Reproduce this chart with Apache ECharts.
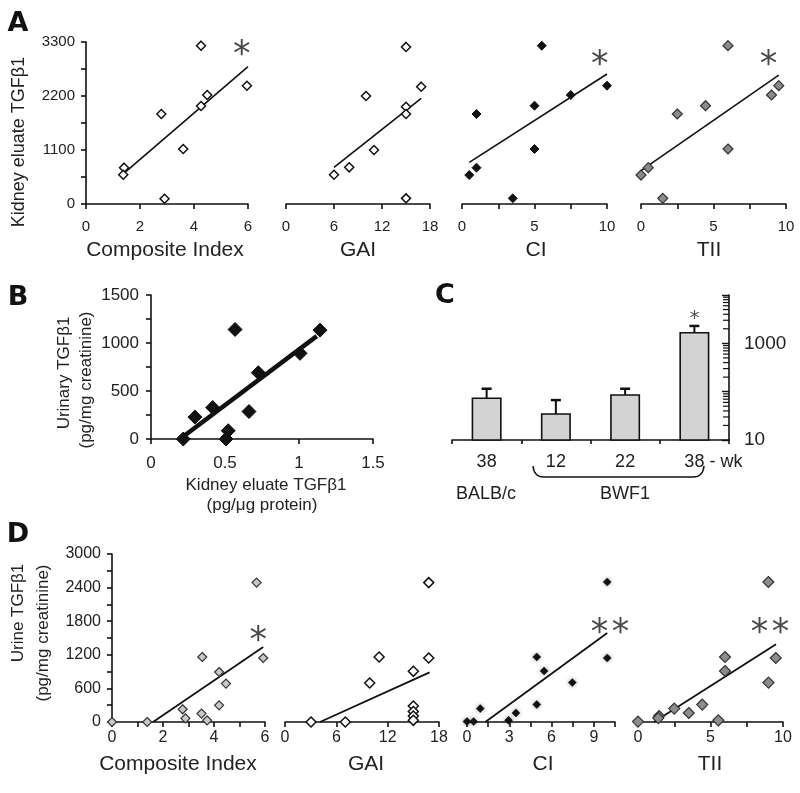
<!DOCTYPE html>
<html><head><meta charset="utf-8">
<script src="https://cdn.jsdelivr.net/npm/echarts@6/dist/echarts.min.js"></script>
<style>html,body{margin:0;padding:0;background:#fff}#c{width:800px;height:793px}</style>
</head><body><div id="c"></div>
<script>
// ---------- DATA ----------
// Panel A: kidney eluate TGFb1 vs histology indices
const aComposite = [[1.41,740],[1.38,597],[2.79,1833],[2.91,108],[3.6,1120],[4.26,3225],[4.26,1996],[4.49,2220],[5.96,2410]];
const aCompositeFit = [[1.4,625],[6,2800]];
const aGAI = [[15,3200],[10,2200],[15,1982],[15,1833],[11,1100],[7.9,747],[6,597],[15,115],[16.9,2390]];
const aGAIFit = [[6,747],[16.9,2150]];
const aCI = [[5.5,3225],[10,2410],[7.5,2220],[5,2002],[1,1833],[5,1120],[1,740],[0.5,590],[3.5,115]];
const aCIFit = [[0.5,849],[10,2648]];
const aTII = [[6,3225],[9.5,2410],[9,2220],[4.45,2002],[2.5,1833],[6,1120],[0.5,740],[0,590],[1.5,115]];
const aTIIFit = [[0,680],[9.5,2627]];
const aCompositeStar = [5.77,3170];
const aCIStar = [9.5,2970];
const aTIIStar = [8.8,2970];

// Panel B: urinary vs kidney eluate TGFb1
const bPoints = [[0.568,1141],[1.142,1134],[1.007,892],[0.725,691],[0.417,328],[0.297,228],[0.662,286],[0.522,86],[0.507,0],[0.218,0]];
const bFit = [[0.196,0],[1.12,1072]];

// Panel C: bars (log scale)
const cCategories = ['38','12','22','38'];
const cMeans = [73, 34.5, 85.5, 1660];
const cErrorTop = [115, 67, 115, 2290];
const cStar = [3, 3870];
const cLabelValues = [10, 1000];
const cMinorMultipliers = [2,3,4,5,6,7,8,9];
const cDecades = [10,100,1000];

// Panel D: urine TGFb1 vs histology indices
const dComposite = [[5.67,2489],[5.93,1143],[3.54,1161],[4.2,893],[4.47,686],[4.2,298],[2.77,227],[2.88,66],[3.51,150],[3.73,30],[1.38,0],[0,0]];
const dCompositeFit = [[1.61,0],[5.93,1339]];
const dGAI = [[16.8,2489],[11,1161],[16.8,1143],[15,905],[9.9,696],[15,285],[15,188],[15,107],[15,30],[3.04,0],[7.05,0]];
const dGAIFit = [[4.09,0],[16.9,885]];
const dCI = [[9.95,2500],[9.95,1143],[4.95,1161],[5.47,911],[7.47,704],[4.95,311],[0.94,239],[3.47,161],[2.95,30],[0,7],[0.47,7]];
const dCIFit = [[1.3,0],[9.95,1589]];
const dTII = [[8.99,2500],[9.5,1143],[6,1161],[6,911],[9,704],[4.43,311],[3.5,161],[2.5,239],[1.45,107],[1.4,70],[5.54,30],[0,7]];
const dTIIFit = [[1.1,0],[9.52,1387]];
const dCompositeStar = [5.74,1578];
const dCIStar = [10.14,1709];
const dTIIStar = [9.1,1709];

// ---------- CHART ----------
const FONT = '"Liberation Sans", Arial, sans-serif';
const INK = '#111';
const chart = echarts.init(document.getElementById('c'), null, {renderer:'canvas'});

function isMult(v, step){ const r = v/step; return Math.abs(r - Math.round(r)) < 1e-6; }
function fmtNum(v){ return String(Math.round(v*1000)/1000); }

function grid(left, top, width, height){
  return {left, top, width, height, containLabel:false, outerBoundsMode:'none'};
}
function valAxis(gi, min, max, interval, labelStep, fontSize, margin, show){
  return {
    type:'value', gridIndex:gi, min, max, interval, show: show !== false,
    axisLine:{show:true, onZero:false, lineStyle:{color:INK, width:1.6}},
    axisTick:{show:true, length:5, lineStyle:{color:INK, width:1.6}},
    splitLine:{show:false},
    axisLabel:{color:'#222', fontFamily:FONT, fontSize, margin,
      formatter: v => isMult(v, labelStep) ? fmtNum(v) : ''}
  };
}

const grids = [
  grid(86,42,162,162), grid(286,42,144,162), grid(462,42,145,162), grid(641,42,145,162),
  grid(151,295,222,144), grid(452,295,277,145),
  grid(112,554,153,168), grid(285,554,154,168), grid(467,554,148,168), grid(638,554,145,168)
];

const xAxes = [
  valAxis(0,0,6,2,2,15,15), valAxis(1,0,18,6,6,15,15), valAxis(2,0,10,2.5,5,15,15), valAxis(3,0,10,2.5,5,15,15),
  valAxis(4,0,1.5,0.5,0.5,17,16),
  {type:'category', gridIndex:5, data:cCategories,
    axisLine:{show:true, lineStyle:{color:INK, width:1.6}},
    axisTick:{show:true, length:4, lineStyle:{color:INK, width:1.6}},
    axisLabel:{color:'#222', fontFamily:FONT, fontSize:18, margin:13}},
  valAxis(6,0,6,1,2,16,8), valAxis(7,0,18,6,6,16,8), valAxis(8,0,10.5,1.5,3,16,8), valAxis(9,0,10,2.5,5,16,8)
];
const yAxes = [
  valAxis(0,0,3300,550,1100,15,11), valAxis(1,0,3300,550,1100,15,11,false), valAxis(2,0,3300,550,1100,15,11,false), valAxis(3,0,3300,550,1100,15,11,false),
  valAxis(4,0,1500,250,500,17,12),
  {type:'log', gridIndex:5, position:'right', min:10, max:10000, logBase:10,
    axisLine:{show:true, lineStyle:{color:INK, width:1.6}},
    axisTick:{show:true, inside:true, length:7, lineStyle:{color:INK, width:1.4}},
    splitLine:{show:false},
    axisLabel:{color:'#222', fontFamily:FONT, fontSize:19, margin:15,
      formatter: v => cLabelValues.indexOf(Math.round(v)) >= 0 ? String(Math.round(v)) : ''}},
  valAxis(6,0,3000,300,600,16,11), valAxis(7,0,3000,300,600,16,11,false), valAxis(8,0,3000,300,600,16,11,false), valAxis(9,0,3000,300,600,16,11,false)
];

const series = [];
function fitLine(gi, data, width){
  series.push({type:'line', xAxisIndex:gi, yAxisIndex:gi, data, symbol:'none', showSymbol:false,
    lineStyle:{color:INK, width}, clip:false, silent:true, z:2});
}
function points(gi, data, size, fill, stroke, bw, extra){
  const s = {type:'scatter', xAxisIndex:gi, yAxisIndex:gi, data, symbol:'diamond', symbolSize:size,
    itemStyle:{color:fill, borderColor:stroke, borderWidth:bw, opacity:1}, clip:false, silent:true, z:3};
  if (extra) Object.assign(s.itemStyle, extra);
  series.push(s);
}
function star(gi, pos, text, size){
  series.push({type:'scatter', xAxisIndex:gi, yAxisIndex:gi, data:[pos], symbolSize:1, clip:false, silent:true,
    itemStyle:{color:'rgba(0,0,0,0)'},
    label:{show:true, position:'inside', formatter:text, fontSize:size, fontFamily:'"DejaVu Sans", sans-serif', color:'#1a1a1a', offset:[0, Math.round(size*0.22)]}, z:4});
}

// Panel A
fitLine(0, aCompositeFit, 1.6); points(0, aComposite, 9, '#fff', INK, 1.5);
fitLine(1, aGAIFit, 1.6); points(1, aGAI, 9, '#fff', INK, 1.5);
fitLine(2, aCIFit, 1.6); points(2, aCI, 9, INK, INK, 1);
fitLine(3, aTIIFit, 1.6); points(3, aTII, 10, '#8a8a8a', '#333', 1.2);
star(0, aCompositeStar, '*', 35); star(2, aCIStar, '*', 35); star(3, aTIIStar, '*', 35);

// Panel B
fitLine(4, bFit, 4.5); points(4, bPoints, 14, INK, INK, 1);

// Panel C bars with error bars
series.push({type:'custom', xAxisIndex:5, yAxisIndex:5, silent:true, z:3,
  data: cMeans.map((m,i)=>[i, m, cErrorTop[i]]),
  encode:{x:0, y:1},
  renderItem(params, api){
    const i = api.value(0), mean = api.value(1), err = api.value(2);
    const top = api.coord([i, mean]); const base = api.coord([i, 10]); const e = api.coord([i, err]);
    const bw = api.size([1,0])[0]*0.41;
    return {type:'group', children:[
      {type:'line', shape:{x1:top[0], y1:top[1], x2:e[0], y2:e[1]}, style:{stroke:INK, lineWidth:2}},
      {type:'line', shape:{x1:e[0]-5, y1:e[1], x2:e[0]+5, y2:e[1]}, style:{stroke:INK, lineWidth:2.5}},
      {type:'rect', shape:{x:top[0]-bw/2, y:top[1], width:bw, height:base[1]-top[1]}, style:{fill:'#d3d3d3', stroke:INK, lineWidth:1.6}}
    ]};
  }
});
// minor log ticks on the right axis
const cMinor = [];
cDecades.forEach(d => cMinorMultipliers.forEach(m => cMinor.push([3, d*m])));
series.push({type:'custom', xAxisIndex:5, yAxisIndex:5, silent:true, z:3, data:cMinor, encode:{x:0,y:1},
  renderItem(params, api){
    const cs = params.coordSys; const x = cs.x + cs.width; const y = api.coord([3, api.value(1)])[1];
    return {type:'line', shape:{x1:x-6, y1:y, x2:x, y2:y}, style:{stroke:INK, lineWidth:1.2}};
  }
});
star(5, cStar, '*', 20);

// Panel D
fitLine(6, dCompositeFit, 1.8); points(6, dComposite, 9, '#c8c8c8', '#333', 1.2);
fitLine(7, dGAIFit, 1.8); points(7, dGAI, 10, '#fff', INK, 1.5);
fitLine(8, dCIFit, 1.8); points(8, dCI, 8, INK, INK, 0.5, {shadowBlur:4, shadowColor:'rgba(0,0,0,0.35)'});
fitLine(9, dTIIFit, 1.8); points(9, dTII, 11, '#8c8c8c', '#333', 1.2);
star(6, dCompositeStar, '*', 35); star(8, dCIStar, '*\u200a*', 35); star(9, dTIIStar, '*\u200a*', 35);

function txt(x, y, text, size, opts){
  return Object.assign({type:'text', x, y, silent:true,
    style:{text, fontSize:size, fontFamily:FONT, fill:'#222', align:'center', verticalAlign:'middle'}}, opts||{});
}
function vtxt(x, y, text, size){ return txt(x, y, text, size, {rotation:Math.PI/2}); }
function letter(x, y, t){ return {type:'text', x, y, silent:true, style:{text:t, fontSize:27, fontWeight:'bold', fontFamily:'"DejaVu Sans", sans-serif', fill:'#111', align:'center', verticalAlign:'middle'}}; }

const graphics = [
  letter(18,24,'A'), letter(18,298,'B'), letter(445,296,'C'), letter(18,535,'D'),
  vtxt(19,142,'Kidney eluate TGFβ1',18),
  txt(165,250,'Composite Index',21), txt(358,250,'GAI',21), txt(536,250,'CI',21), txt(709,250,'TII',21),
  vtxt(64,373,'Urinary TGFβ1',17), vtxt(86,380,'(pg/mg creatinine)',17),
  txt(266,485,'Kidney eluate TGFβ1',17), txt(262,505,'(pg/μg protein)',17),
  txt(726,462,'- wk',18), txt(486,494,'BALB/c',18), txt(625,494,'BWF1',18),
  {type:'bezierCurve', silent:true, shape:{x1:533,y1:466,x2:544,y2:477,cpx1:534,cpy1:477}, style:{fill:null, stroke:INK, lineWidth:1.5}},
  {type:'line', silent:true, shape:{x1:544,y1:477,x2:693,y2:477}, style:{stroke:INK, lineWidth:1.5}},
  {type:'bezierCurve', silent:true, shape:{x1:693,y1:477,x2:704,y2:466,cpx1:703,cpy1:477}, style:{fill:null, stroke:INK, lineWidth:1.5}},
  vtxt(18,613,'Urine TGFβ1',17), vtxt(43,633,'(pg/mg creatinine)',17),
  txt(178,764,'Composite Index',21), txt(366,764,'GAI',21), txt(543,764,'CI',21), txt(710,764,'TII',21)
];

chart.setOption({
  animation:false, backgroundColor:'#fff',
  grid:grids, xAxis:xAxes, yAxis:yAxes, series, graphic:graphics
});
</script></body></html>
